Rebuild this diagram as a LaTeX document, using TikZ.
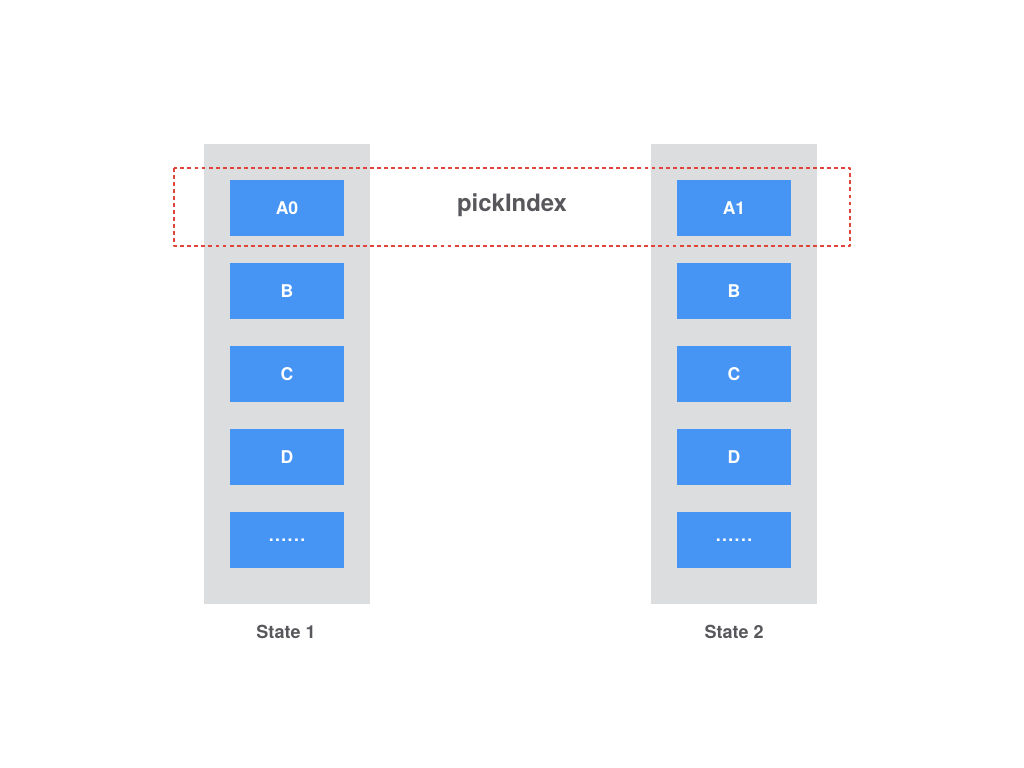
\documentclass[tikz,border=0pt]{standalone}
\usepackage{fontspec}
\setmainfont{TeX Gyre Heros}
\definecolor{colgray}{HTML}{DCDDDF}
\definecolor{cellblue}{HTML}{4694F4}
\definecolor{txtgray}{HTML}{58585C}
\definecolor{pickred}{HTML}{E0443A}
\newcommand{\celldots}{\raisebox{-2pt}{.\kern1pt.\kern1pt.\kern1pt.\kern1pt.\kern1pt.}}
\tikzset{
  every picture/.style={line join=round},
  column/.style={fill=colgray, draw=none, minimum width=4.15cm, minimum height=11.5cm, inner sep=0pt},
  cell/.style={fill=cellblue, draw=none, minimum width=2.85cm, minimum height=1.4cm, inner sep=0pt, text=white, font=\bfseries\fontsize{12.5}{14}\selectfont},
  caption/.style={text=txtgray, font=\bfseries\fontsize{12.8}{15}\selectfont},
  pickbox/.style={draw=pickred, line width=1.4pt, dash pattern=on 2.8pt off 2.2pt},
}

\begin{document}
\begin{tikzpicture}[x=0.025cm,y=-0.025cm]
\useasboundingbox (0,0) rectangle (1024,768);
\node[column] (colL) at (287,374) {};
\node[column] (colR) at (734,374) {};
\node[cell] (a0) at (287,208) {A0};
\node[cell] (b1) at (287,291) {B};
\node[cell] (c1) at (287,374) {C};
\node[cell] (d1) at (287,457) {D};
\node[cell] (e1) at (287,540) {\celldots};
\node[cell] (a1) at (734,208) {A1};
\node[cell] (b2) at (734,291) {B};
\node[cell] (c2) at (734,374) {C};
\node[cell] (d2) at (734,457) {D};
\node[cell] (e2) at (734,540) {\celldots};
\node[caption] (st1) at (286,632) {State 1};
\node[caption] (st2) at (734,632) {State 2};
\coordinate (pkA) at (174,168);
\coordinate (pkB) at (850,246);
\draw[pickbox] (pkA) rectangle (pkB);
\node[text=txtgray, font=\bfseries\fontsize{17}{20}\selectfont] (pick) at (512,205) {pickIndex};
\end{tikzpicture}
\end{document}
